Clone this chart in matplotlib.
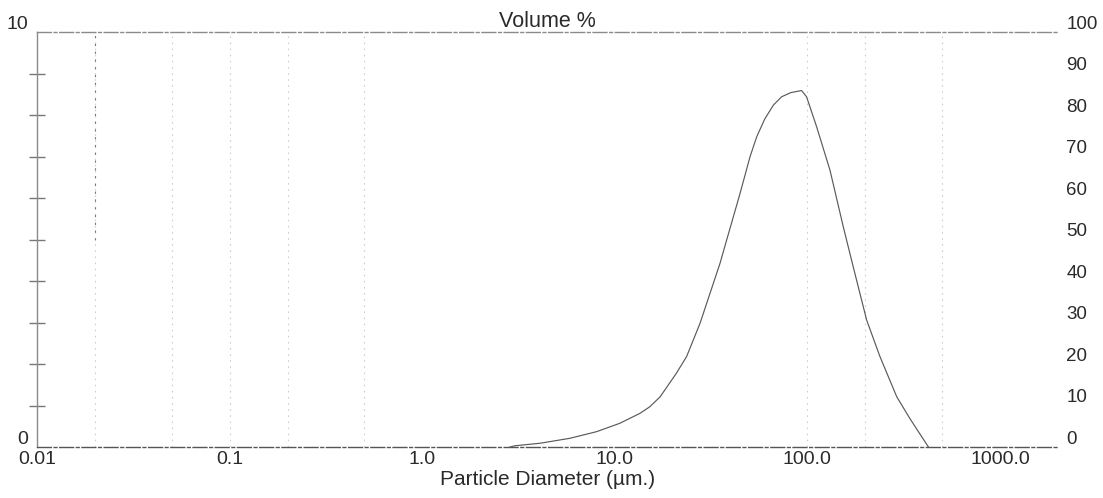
import matplotlib.pyplot as plt
import numpy as np
from matplotlib.ticker import FixedLocator, NullFormatter
from matplotlib.transforms import ScaledTranslation

# particle size distribution (volume %) vs diameter in microns
diameter = [2.86, 3.03, 4.09, 5.85, 8.05, 10.6, 13.5, 15.2, 17.2, 20.9, 23.6,
            27.7, 35.2, 38.1, 44.7, 50.4, 54.6, 60.0, 66.6, 73.5, 82.0, 93.3,
            99.0, 111.6, 131.0, 153.5, 173.0, 203.0, 238.0, 291.0, 340.0,
            425.0]
volume = [0.0, 0.03, 0.09, 0.21, 0.37, 0.57, 0.81, 0.97, 1.21, 1.78, 2.18,
          2.98, 4.43, 4.99, 6.11, 7.0, 7.48, 7.9, 8.24, 8.44, 8.54, 8.59,
          8.44, 7.72, 6.67, 5.31, 4.34, 3.06, 2.18, 1.21, 0.69, 0.0]

x_ticks = [0.01, 0.1, 1.0, 10.0, 100.0, 1000.0]
x_labels = ['0.01', '0.1', '1.0', '10.0', '100.0', '1000.0']
right_ticks = [0, 10, 20, 30, 40, 50, 60, 70, 80, 90, 100]
grid_x = [0.02, 0.05, 0.1, 0.2, 0.5, 100, 200, 500]

plt.rcParams['font.family'] = ['Liberation Sans', 'DejaVu Sans']
ink = '#2a2a2a'

fig = plt.figure(figsize=(11.03, 4.98), dpi=100)
ax = fig.add_axes([0.0335, 0.1024, 0.9257, 0.8333])

ax.set_xscale('log')
ax.set_xlim(0.01, 2000)
ax.set_ylim(0, 10)

for gx in grid_x:
    ax.axvline(gx, color='#cfcfcf', lw=0.8, ls=(0, (1.5, 4)), zorder=0)
ax.axvline(0.02, ymin=0.5, ymax=1, color='#777777', lw=0.8,
           ls=(0, (2, 5)), zorder=0)

ax.plot(diameter, volume, color='#5a5a5a', lw=0.85)

# spines
ax.spines['top'].set_color('#8a8a8a')
ax.spines['bottom'].set_color('#555555')
for side in ['top', 'bottom']:
    ax.spines[side].set_linewidth(1.0)
    ax.spines[side].set_linestyle((0, (10, 2, 2, 2)))
ax.spines['left'].set_color('#8a8a8a')
ax.spines['left'].set_linewidth(1.0)
ax.spines['right'].set_visible(False)

ax.xaxis.set_major_locator(FixedLocator(x_ticks))
ax.set_xticklabels(x_labels)
ax.xaxis.set_minor_locator(FixedLocator([]))
ax.tick_params(axis='x', which='both', length=0, pad=3, labelsize=14,
               labelcolor=ink)

ax.yaxis.set_major_locator(FixedLocator([0, 10]))
ax.yaxis.set_minor_locator(FixedLocator(np.arange(1, 10)))
ax.yaxis.set_minor_formatter(NullFormatter())
ax.tick_params(axis='y', which='major', length=0, pad=6, labelsize=14,
               labelcolor=ink)
ax.tick_params(axis='y', which='minor', direction='inout', length=11,
               width=1.0, color='#777777')

lift = ScaledTranslation(0, 7 / 72, fig.dpi_scale_trans)
for lab in ax.get_yticklabels():
    lab.set_transform(lab.get_transform() + lift)

ax2 = ax.twinx()
ax2.set_ylim(0, 100)
ax2.set_yticks(right_ticks)
ax2.tick_params(axis='y', length=0, pad=6, labelsize=13.5, labelcolor=ink)
for side in ['top', 'bottom', 'left', 'right']:
    ax2.spines[side].set_visible(False)
for lab in ax2.get_yticklabels():
    lab.set_transform(lab.get_transform() + lift)

ax.set_title('Volume %', fontsize=15.5, color=ink, pad=2)
ax.set_xlabel('Particle Diameter (\u00b5m.)', fontsize=15, color=ink,
              labelpad=1)

fig.savefig('out.png', dpi=100, facecolor='white')
